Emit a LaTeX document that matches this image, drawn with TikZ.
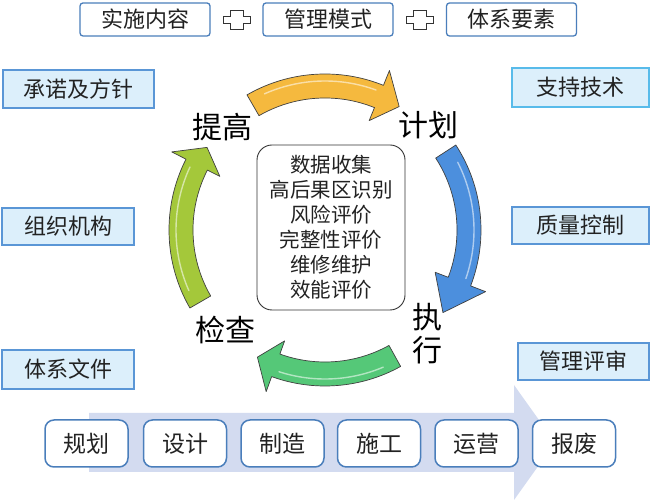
\documentclass[tikz,border=0pt]{standalone}
\usepackage{fontspec}
\newfontfamily\cjk{Noto Sans CJK SC}
\definecolor{boxblue}{HTML}{4A7EBB}
\definecolor{sideblue}{HTML}{5A96D6}
\definecolor{cyanblue}{HTML}{58BBEA}
\definecolor{sidefill}{HTML}{DCEFFB}
\definecolor{bgarrow}{HTML}{D3DBF0}
\definecolor{orangeA}{HTML}{F5B93E}
\definecolor{blueA}{HTML}{4C8FDD}
\definecolor{greenA}{HTML}{55C878}
\definecolor{limeA}{HTML}{A4C83A}
\definecolor{txt}{HTML}{222222}
\newcommand\cycarrow[4]{%
  \filldraw[fill=#4, draw=black!75, line width=0.7pt, line join=round]
    (#1:156pt) arc[start angle=#1, end angle=#2, radius=156pt]
    -- (#2:172pt) -- (#3:144pt) -- (#2:118pt) -- (#2:132pt)
    arc[start angle=#2, end angle=#1, radius=132pt] -- cycle;
  \draw[white, opacity=.55, line width=1.4pt, line cap=round]
    ({#1-6}:149pt) arc[start angle={#1-6}, end angle={#2+2}, radius=149pt];
}
\begin{document}
\begin{tikzpicture}[x=1pt,y=1pt,
  topbox/.style={draw=boxblue, line width=1.3pt, rounded corners=3pt, fill=white,
    minimum width=130pt, minimum height=33pt, inner sep=0pt,
    font=\cjk\fontsize{22}{24}\selectfont, text=txt},
  sidebox/.style={draw=sideblue, line width=1.6pt, fill=sidefill,
    minimum height=38pt, inner sep=0pt,
    font=\cjk\fontsize{22}{24}\selectfont, text=txt},
  stagebox/.style={draw=boxblue, line width=1.5pt, rounded corners=9pt, fill=white,
    minimum width=83pt, minimum height=47pt, inner sep=0pt,
    font=\cjk\fontsize{23}{25}\selectfont, text=txt},
  lbl/.style={inner sep=0pt, font=\cjk\fontsize{30}{33}\selectfont, text=black},
  centerbox/.style={draw=black!80, line width=0.9pt, rounded corners=15pt,
    minimum width=148pt, minimum height=165pt, inner sep=0pt, align=center,
    font=\cjk\fontsize{20.5}{25}\selectfont, text=txt},
  plug/.style={draw=black!80, line width=1pt, fill=white}
]
\useasboundingbox (0,0) rectangle (651,503);
\fill[white] (0,0) rectangle (651,503);

% top row
\node[topbox] (shishi) at (145,483.5) {实施内容};
\node[topbox] (guanli) at (328,483.5) {管理模式};
\node[topbox] (tixi) at (511.5,483.5) {体系要素};
\foreach \cx in {237,419.5}{
  \draw[plug, shift={(\cx,482.5)}]
    (-13.5,3.5) -- (-6.5,3.5) -- (-6.5,9.5) -- (6.5,9.5) -- (6.5,3.5) -- (13.5,3.5)
    -- (13.5,-3.5) -- (6.5,-3.5) -- (6.5,-9.5) -- (-6.5,-9.5) -- (-6.5,-3.5)
    -- (-13.5,-3.5) -- cycle;
}

% side boxes
\node[sidebox, minimum width=151pt] (chengnuo) at (78.5,414) {承诺及方针};
\node[sidebox, draw=cyanblue, minimum width=137pt, minimum height=39pt] (zhichi) at (580.5,415.5) {支持技术};
\node[sidebox, minimum width=132pt, minimum height=37pt] (zuzhi) at (68,276.5) {组织机构};
\node[sidebox, minimum width=137pt, minimum height=37pt] (zhiliang) at (580.5,277.5) {质量控制};
\node[sidebox, minimum width=132pt, minimum height=39pt] (wenjian) at (68,133.5) {体系文件};
\node[sidebox, minimum width=131pt, minimum height=37pt] (pingshen) at (583.5,141.5) {管理评审};

% cycle arrows
\begin{scope}[shift={(325,273)}]
  \cycarrow{120}{68}{59}{orangeA}
  \cycarrow{33}{-21}{-35}{blueA}
  \cycarrow{-61}{-110}{-118}{greenA}
  \cycarrow{210}{153}{145}{limeA}
\end{scope}

% cycle labels
\node[lbl] (tigao) at (222,376) {提高};
\node[lbl] (jihua) at (428,378) {计划};
\node[lbl, align=center] (zhixing) at (427,169.5) {执\\行};
\node[lbl] (jiancha) at (225,173) {检查};

% center box
\node[centerbox] (core) at (331,275.5) {数据收集\\高后果区识别\\风险评价\\完整性评价\\维修维护\\效能评价};

% lifecycle arrow
\fill[bgarrow] (89,31) -- (514,31) -- (514,3) -- (555,60.5) -- (514,118) -- (514,90) -- (89,90) -- cycle;
\node[stagebox] (guihua) at (86.5,59.5) {规划};
\node[stagebox] (sheji) at (185,59.5) {设计};
\node[stagebox] (zhizao) at (282.5,59.5) {制造};
\node[stagebox] (shigong) at (379,59.5) {施工};
\node[stagebox] (yunying) at (476.5,59.5) {运营};
\node[stagebox] (baofei) at (574,59.5) {报废};
\end{tikzpicture}
\end{document}
